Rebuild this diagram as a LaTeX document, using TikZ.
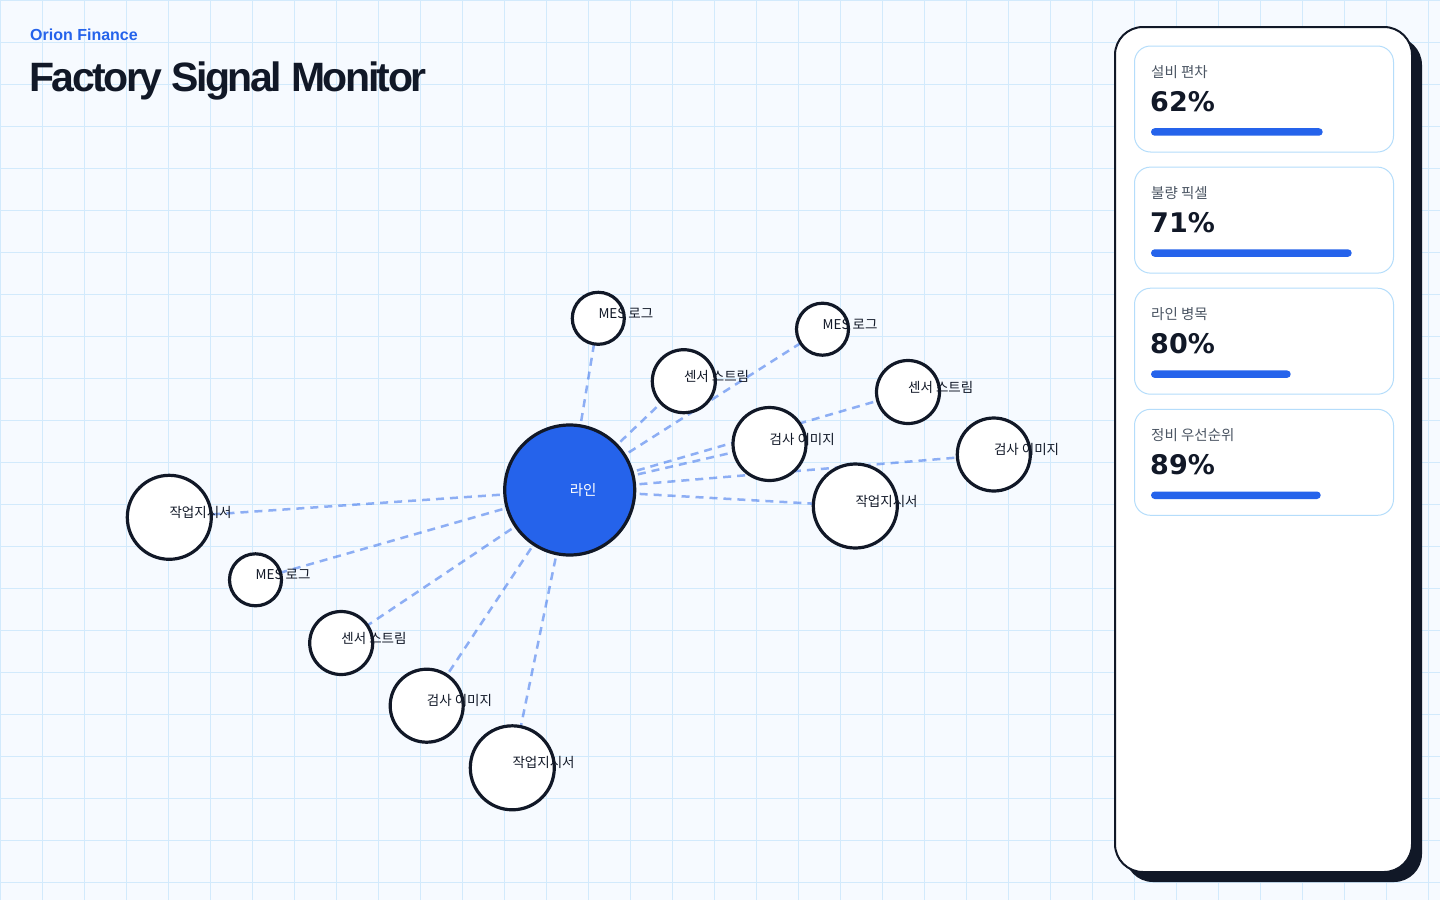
\documentclass[tikz,border=0pt]{standalone}
\usepackage{fontspec}
\setmainfont{Liberation Sans}
\newfontfamily\krfont{Noto Sans CJK KR}
\newfontfamily\titlefont[LetterSpace=-6]{Liberation Sans}
\newfontfamily\numfont{DejaVu Sans}
\definecolor{ink}{HTML}{111827}
\definecolor{brand}{HTML}{2563EB}
\definecolor{bgc}{HTML}{F6FAFF}
\definecolor{gridc}{HTML}{D2EAFC}
\definecolor{cardline}{HTML}{B5DDFB}
\definecolor{muted}{HTML}{4B5563}
\pgfdeclarelayer{bglayer}
\pgfdeclarelayer{edgelayer}
\pgfdeclarelayer{ringlayer}
\pgfsetlayers{bglayer,edgelayer,main,ringlayer}
\begin{document}
\begin{tikzpicture}[x=1pt,y=-1pt,
  sat/.style={circle, fill=white, inner sep=0pt, minimum size=#1},
  hubnode/.style={circle, fill=brand, inner sep=0pt, minimum size=130pt},
  lbl/.style={anchor=base west, inner sep=0pt, text=ink, font=\krfont\fontsize{13.5}{16}\selectfont},
  hublbl/.style={anchor=west, inner sep=0pt, text=white, font=\krfont\fontsize{14.5}{17}\selectfont},
  ring/.style={draw=ink, line width=3.2pt},
  edgeline/.style={draw=brand, draw opacity=0.5, line width=2.5pt, dash pattern=on 8pt off 6pt},
  card/.style={draw=cardline, line width=1pt, fill=white, rounded corners=16pt},
  cardlabel/.style={anchor=west, inner sep=0pt, text=muted, font=\krfont\fontsize{14.5}{17}\selectfont},
  cardvalue/.style={anchor=west, inner sep=0pt, text=ink, font=\numfont\bfseries\fontsize{27}{32}\selectfont},
  bar/.style={fill=brand, rounded corners=3.7pt}
]
\useasboundingbox (0,0) rectangle (1440,900);
\begin{pgfonlayer}{bglayer}
\fill[bgc] (0,0) rectangle (1440,900);
\draw[gridc, line width=1pt, step=42pt] (0,0) grid (1440,900);
\end{pgfonlayer}

% title
\node[anchor=base west, inner sep=0pt, text=brand, font=\bfseries\fontsize{16}{19}\selectfont] (brandname) at (30,40.7) {Orion Finance};
\node[anchor=base west, inner sep=0pt, text=ink, font=\titlefont\bfseries\fontsize{41}{48}\selectfont] (title) at (29,91.7) {Factory Signal Monitor};

% nodes
\node[hubnode] (hub) at (569.7,490) {};
\node[sat=52pt] (m1) at (598.3,318.3) {};
\node[sat=63pt] (s1) at (683.8,381.2) {};
\node[sat=52pt] (m2) at (822.5,329.2) {};
\node[sat=63pt] (s2) at (908,392) {};
\node[sat=73pt] (g1) at (769.5,444) {};
\node[sat=73pt] (g2) at (993.8,454.5) {};
\node[sat=84pt] (w1) at (855.3,506) {};
\node[sat=84pt] (w2) at (169.3,517.3) {};
\node[sat=52pt] (m3) at (255.5,579.8) {};
\node[sat=63pt] (s3) at (341.2,643) {};
\node[sat=73pt] (g3) at (426.7,705.7) {};
\node[sat=84pt] (w3) at (512.3,767.8) {};

% labels
\node[hublbl] (hubt) at (hub.center) {라인};
\node[lbl] (m1t) at (m1.center) {MES 로그};
\node[lbl] (s1t) at (s1.center) {센서 스트림};
\node[lbl] (m2t) at (m2.center) {MES 로그};
\node[lbl] (s2t) at (s2.center) {센서 스트림};
\node[lbl] (g1t) at (g1.center) {검사 이미지};
\node[lbl] (g2t) at (g2.center) {검사 이미지};
\node[lbl] (w1t) at (w1.center) {작업지시서};
\node[lbl] (w2t) at (w2.center) {작업지시서};
\node[lbl] (m3t) at (m3.center) {MES 로그};
\node[lbl] (s3t) at (s3.center) {센서 스트림};
\node[lbl] (g3t) at (g3.center) {검사 이미지};
\node[lbl] (w3t) at (w3.center) {작업지시서};

% edges
\begin{pgfonlayer}{edgelayer}
\foreach \n in {m1,s1,m2,s2,g1,g2,w1,w2,m3,s3,g3,w3}
  \draw[edgeline] (hub.center) -- (\n.center);
\end{pgfonlayer}

% rings
\begin{pgfonlayer}{ringlayer}
\foreach \n/\r in {hub/65,m1/26,s1/31.5,m2/26,s2/31.5,g1/36.5,g2/36.5,w1/42,w2/42,m3/26,s3/31.5,g3/36.5,w3/42}
  \draw[ring] (\n.center) circle[radius=\r];
\end{pgfonlayer}

% panel
\fill[ink, rounded corners=28pt] (1125,37) rectangle (1422,882);
\draw[ink, fill=white, line width=2pt, rounded corners=28pt] (1115,27) rectangle (1412,872);

\foreach \i/\lab/\val/\w in {0/설비 편차/62\%/171.7, 1/불량 픽셀/71\%/200.7, 2/라인 병목/80\%/139.7, 3/정비 우선순위/89\%/169.7}{
  \pgfmathsetmacro{\top}{46+121.1*\i}
  \draw[card] (1134.5,\top) rectangle (1393.5,\top+106);
  \node[cardlabel] (lab\i) at (1151,\top+25.8) {\lab};
  \node[cardvalue] (val\i) at (1150,\top+55.8) {\val};
  \fill[bar] (1151,\top+82.2) rectangle (1151+\w,\top+89.7);
}
\end{tikzpicture}
\end{document}
